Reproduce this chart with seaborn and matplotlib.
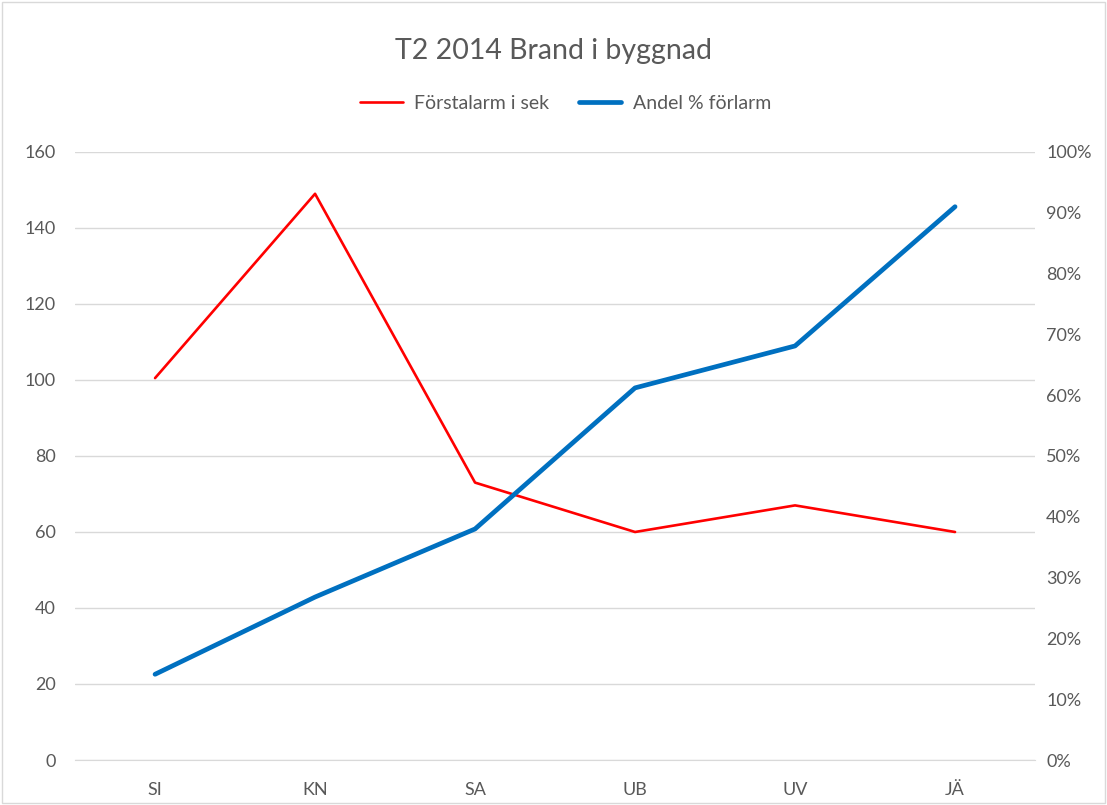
import pandas as pd
import seaborn as sns
import matplotlib.pyplot as plt
from matplotlib.ticker import PercentFormatter
from matplotlib.patches import Rectangle

# data
stations = ['SI', 'KN', 'SA', 'UB', 'UV', 'JÄ']
forstalarm_sek = [100.5, 149, 73, 60, 67, 60]
andel_forlarm = [14.1, 26.8, 38.0, 61.2, 68.1, 91.0]

df = pd.DataFrame({'station': stations, 'sek': forstalarm_sek, 'andel': andel_forlarm})
df['x'] = range(len(df))

sns.set_style('white')
plt.rcParams['font.family'] = ['Lato', 'DejaVu Sans']
grey_text = '#595959'

fig = plt.figure(figsize=(11.07, 8.05), dpi=100)
ax = fig.add_axes([0.0678, 0.0559, 0.8672, 0.7553])

sns.lineplot(data=df, x='x', y='sek', ax=ax, color='#FF0000', linewidth=1.9,
             label='Förstalarm i sek', legend=False)
ax2 = ax.twinx()
sns.lineplot(data=df, x='x', y='andel', ax=ax2, color='#0070C0', linewidth=3.4,
             label='Andel % förlarm', legend=False, solid_capstyle='round')

ax.set_xlim(-0.5, len(stations) - 0.5)
ax.set_ylim(0, 160)
ax.set_yticks(range(0, 161, 20))
ax2.set_ylim(0, 100)
ax2.set_yticks(range(0, 101, 10))
ax2.yaxis.set_major_formatter(PercentFormatter(decimals=0))

ax.set_xticks(df['x'])
ax.set_xticklabels(stations)
ax.set_xlabel('')
ax.set_ylabel('')
ax2.set_ylabel('')

ax.grid(axis='y', color='#D9D9D9', linewidth=1)
ax.set_axisbelow(True)
for a in (ax, ax2):
    for s in a.spines.values():
        s.set_visible(False)
    a.tick_params(length=0, labelsize=13, colors=grey_text)
ax.spines['bottom'].set_visible(True)
ax.spines['bottom'].set_color('#D9D9D9')
ax.tick_params(axis='y', pad=14)
ax.tick_params(axis='x', pad=16)
ax2.tick_params(axis='y', pad=8)

fig.suptitle('T2 2014 Brand i byggnad', y=0.953, fontsize=20.5, color=grey_text)

h1, l1 = ax.get_legend_handles_labels()
h2, l2 = ax2.get_legend_handles_labels()
fig.legend(h1 + h2, l1 + l2, loc='center', bbox_to_anchor=(0.511, 0.872), ncol=2,
           frameon=False, fontsize=14, labelcolor=grey_text, handlelength=2.2,
           columnspacing=1.5, handletextpad=0.6)

# chart area border
fig.patches.append(Rectangle((0.002, 0.002), 0.996, 0.996, transform=fig.transFigure,
                             fill=False, edgecolor='#D9D9D9', linewidth=1))

fig.savefig('out.png', dpi=100)
